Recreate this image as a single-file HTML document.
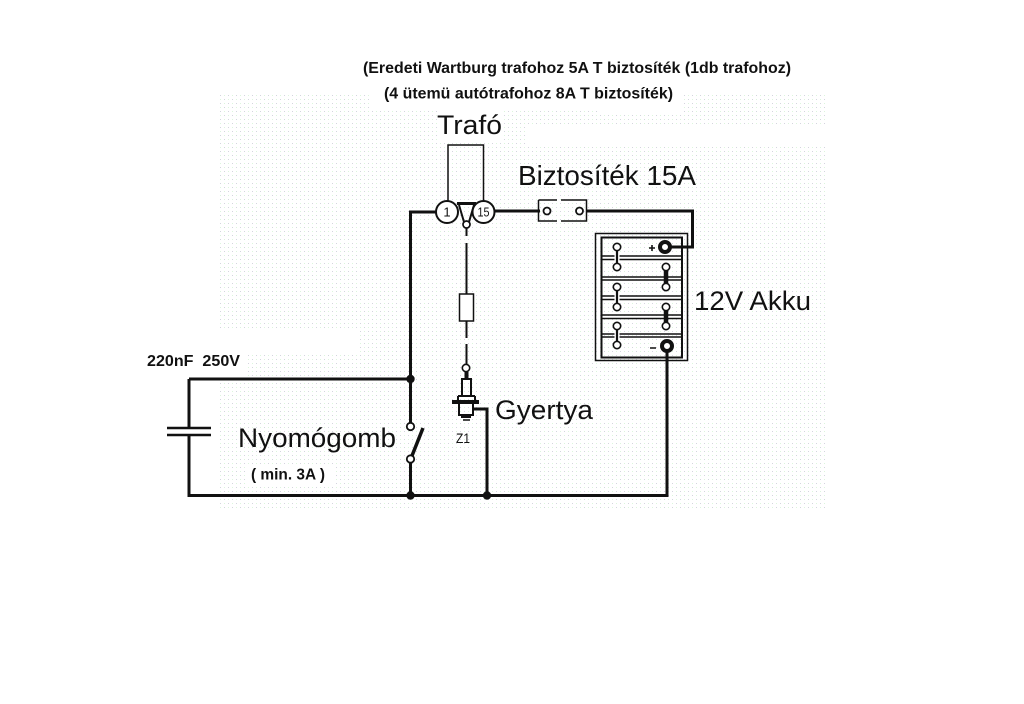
<!DOCTYPE html>
<html><head><meta charset="utf-8"><style>
html,body{margin:0;padding:0;background:#fff}
svg{display:block}
text{font-family:"Liberation Sans",sans-serif;fill:#111}
</style></head><body>
<svg width="1024" height="704" viewBox="0 0 1024 704" xmlns="http://www.w3.org/2000/svg">
<defs>
<pattern id="d" x="220" y="95" width="8" height="8" patternUnits="userSpaceOnUse">
<rect x="0" y="0" width="1" height="1" fill="#d4d4de"/>
<rect x="4" y="0" width="1" height="1" fill="#dcf6dc"/>
<rect x="0" y="4" width="1" height="1" fill="#dcf6dc"/>
<rect x="4" y="4" width="1" height="1" fill="#d4d4de"/>
</pattern>
</defs>
<rect width="1024" height="704" fill="#fff"/>
<rect x="220" y="95" width="606" height="413" fill="url(#d)"/>
<!-- white label boxes over the dots -->
<g fill="#fff">
<rect x="372" y="90" width="311" height="20"/>
<rect x="600" y="108" width="83" height="7"/>
<rect x="437" y="110" width="66" height="30"/>
<rect x="525" y="125" width="305" height="22"/>
<rect x="218" y="330" width="142" height="24"/>
<rect x="218" y="354" width="30" height="22"/>
<rect x="248" y="466" width="86" height="21"/>
</g>

<g fill="none" stroke="#111">
<!-- main wires -->
<path d="M436 212H410.500V424M410.500 462V495.500M189 379H410.500M189 379V428M189 435V495.500H667V349M487 495.500V409H473" stroke-width="3"/>
<path d="M495 211H540M586 211H692.500V247H670" stroke-width="3"/>
<!-- capacitor -->
<path d="M167 428H211M167 435H211" stroke-width="2.600"/>
<!-- transformer -->
<path d="M448 201V145H483.500V201" stroke-width="1.500"/>
<path d="M457 203.500H476" stroke-width="3"/>
<path d="M459 205L464 222M474 205L469 222" stroke-width="2"/>
<circle cx="447" cy="212" r="11" fill="#fff" stroke-width="2"/>
<circle cx="483.500" cy="212" r="11" fill="#fff" stroke-width="2"/>
<path d="M466.500 228V236M466.500 243V294M466.500 321V338M466.500 344V365" stroke-width="2"/>
<circle cx="466.500" cy="224.500" r="3.500" fill="#fff" stroke-width="1.700"/>
<!-- fuse -->
<path d="M538.500 200H557M561 200H586.500V221H561M557 221H538.500V200" stroke-width="1.500"/>
<circle cx="547" cy="211" r="3.500" fill="#fff" stroke-width="1.800"/>
<circle cx="579.500" cy="211" r="3.500" fill="#fff" stroke-width="1.800"/>
<!-- ht lead resistor -->
<rect x="459.500" y="294" width="14" height="27" fill="#fff" stroke-width="1.500"/>
<!-- spark plug -->
<circle cx="466" cy="368" r="3.700" fill="#fff" stroke-width="1.600"/>
<path d="M466.500 372V378" stroke-width="4"/>
<path d="M462 395V379H471V395" stroke-width="2"/>
<path d="M458 396H475M458 396V400M475 396V400" stroke-width="2"/>
<path d="M452 402H479" stroke-width="4"/>
<path d="M459 404V415H473V404" stroke-width="2"/>
<path d="M461 417H471" stroke-width="2"/>
<path d="M463 420H470" stroke-width="1.500"/>
<!-- switch -->
<path d="M411.500 457L423 428" stroke-width="3.500"/>
<circle cx="410.500" cy="426.500" r="3.700" fill="#fff" stroke-width="1.800"/>
<circle cx="410.500" cy="459" r="3.700" fill="#fff" stroke-width="1.800"/>
<!-- battery -->
<rect x="595.500" y="233.500" width="92" height="127" stroke-width="1.500"/>
<rect x="601.500" y="237.500" width="80.500" height="120" stroke-width="2"/>
<path d="M602 256H681M602 259.500H681M602 277H681M602 280H681M602 296H681M602 299.500H681M602 315H681M602 318.500H681M602 334H681M602 337H681" stroke-width="1.600"/>
<path d="M617 248V268M617 288V307M617 327V346" stroke="#fff" stroke-width="5"/>
<path d="M617 248V268M617 288V307M617 327V346" stroke-width="2.200"/>
<path d="M666 268V287M666 307V326" stroke-width="4.500"/>
<g fill="#fff" stroke-width="1.600">
<circle cx="617" cy="247" r="3.700"/><circle cx="617" cy="267" r="3.700"/>
<circle cx="666" cy="267" r="3.700"/><circle cx="666" cy="287" r="3.700"/>
<circle cx="617" cy="287" r="3.700"/><circle cx="617" cy="307" r="3.700"/>
<circle cx="666" cy="307" r="3.700"/><circle cx="666" cy="326" r="3.700"/>
<circle cx="617" cy="326" r="3.700"/><circle cx="617" cy="345" r="3.700"/>
</g>
<circle cx="665" cy="247" r="5" fill="#fff" stroke-width="4"/>
<circle cx="667" cy="346" r="5" fill="#fff" stroke-width="4"/>
<path d="M649 248H655M652 245V251M650 348H656" stroke-width="1.600"/>
</g>
<circle cx="410.500" cy="379" r="4.200" fill="#111"/>
<circle cx="410.500" cy="495.500" r="4.200" fill="#111"/>
<circle cx="487" cy="495.500" r="4.200" fill="#111"/>

<text x="447" y="216.500" font-size="13" text-anchor="middle">1</text>
<text x="477.500" y="216.500" font-size="13" textLength="12" lengthAdjust="spacingAndGlyphs">15</text>
<text x="363" y="73" font-size="16" font-weight="bold" textLength="428" lengthAdjust="spacingAndGlyphs">(Eredeti Wartburg trafohoz 5A T biztosíték (1db trafohoz)</text>
<text x="384" y="98.500" font-size="16" font-weight="bold" textLength="289" lengthAdjust="spacingAndGlyphs">(4 ütemü autótrafohoz 8A T biztosíték)</text>
<text x="437" y="134" font-size="27" textLength="65" lengthAdjust="spacingAndGlyphs">Trafó</text>
<text x="518" y="185" font-size="28" textLength="178" lengthAdjust="spacingAndGlyphs">Biztosíték 15A</text>
<text x="694" y="310" font-size="27" textLength="117" lengthAdjust="spacingAndGlyphs">12V Akku</text>
<text x="495" y="419" font-size="27" textLength="98" lengthAdjust="spacingAndGlyphs">Gyertya</text>
<text x="238" y="447" font-size="27" textLength="158" lengthAdjust="spacingAndGlyphs">Nyomógomb</text>
<text x="251" y="479.500" font-size="16" font-weight="bold" textLength="74" lengthAdjust="spacingAndGlyphs">( min. 3A )</text>
<text x="147" y="366" font-size="15.500" font-weight="bold" textLength="93" lengthAdjust="spacingAndGlyphs">220nF&#160;&#160;250V</text>
<text x="456" y="443" font-size="14" textLength="14" lengthAdjust="spacingAndGlyphs">Z1</text>
</svg>
</body></html>
